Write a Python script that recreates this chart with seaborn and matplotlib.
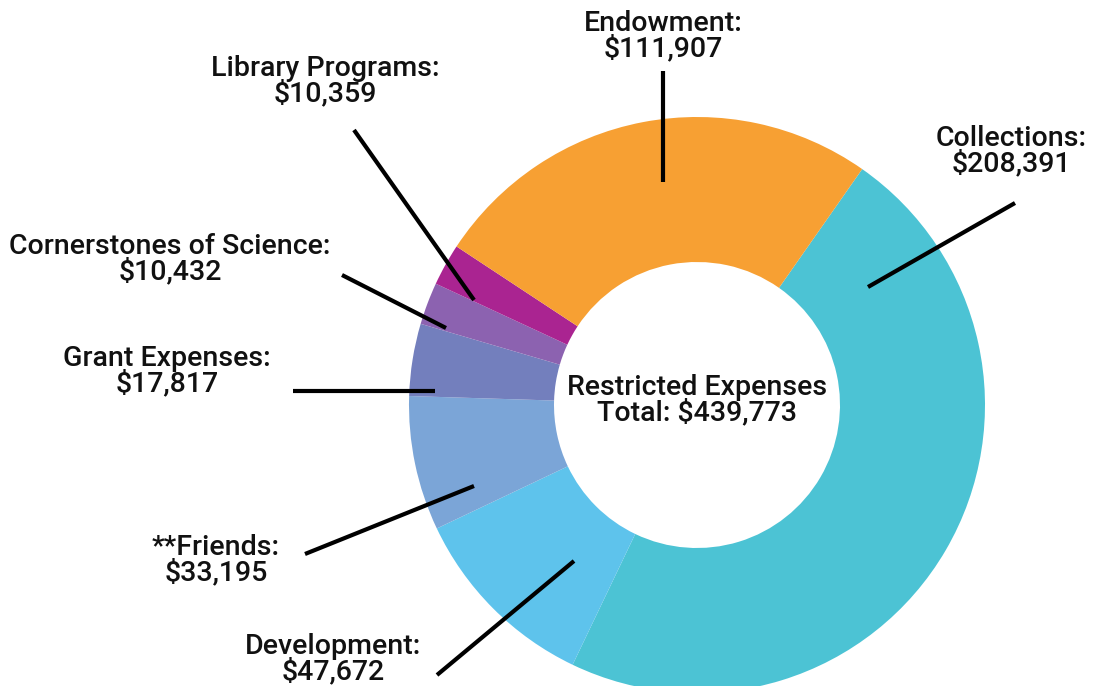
import matplotlib
matplotlib.use("Agg")
import matplotlib.pyplot as plt
import seaborn as sns

# ---- data ----
categories = ["Collections", "Development", "**Friends", "Grant Expenses",
              "Cornerstones of Science", "Library Programs", "Endowment"]
values = [208391, 47672, 33195, 17817, 10432, 10359, 111907]
colors = ["#4CC3D4", "#5EC3EC", "#7BA5D7", "#737FBD", "#8C62B0", "#AA2491", "#F7A033"]
center_title = "Restricted Expenses"

# ---- layout (pixel coordinates, y from top) ----
W, H = 1096, 686
cx, cy = 697, 405
r_out, r_in = 288, 143
start_angle = 55
label_pos = {
    "Collections": (1011, 151),
    "Development": (333, 659),
    "**Friends": (216, 560),
    "Grant Expenses": (167, 371),
    "Cornerstones of Science": (170, 259),
    "Library Programs": (325, 81),
    "Endowment": (663, 36),
}
leader = {
    "Collections": ((1015, 203), (868, 287)),
    "Development": ((437, 675), (574, 561)),
    "**Friends": ((305, 554), (474, 486)),
    "Grant Expenses": ((293, 391), (435, 391)),
    "Cornerstones of Science": ((342, 275), (446, 328)),
    "Library Programs": ((354, 130), (474, 300)),
    "Endowment": ((663, 71), (663, 182)),
}

sns.set_theme(style="white")
plt.rcParams["font.family"] = ["Roboto", "DejaVu Sans"]

fig = plt.figure(figsize=(W / 100, H / 100), dpi=100)
ax = fig.add_axes([0, 0, 1, 1])
ax.set_xlim(0, W)
ax.set_ylim(0, H)
ax.set_aspect("equal")
ax.axis("off")

def Y(y):
    return H - y

palette = sns.color_palette(colors)
ax.pie(values, colors=palette, startangle=start_angle, counterclock=False,
       center=(cx, Y(cy)), radius=r_out,
       wedgeprops=dict(width=r_out - r_in, linewidth=0))
ax.set_xlim(0, W)
ax.set_ylim(0, H)

fs = 20.5
for cat, val in zip(categories, values):
    x, y = label_pos[cat]
    ax.text(x, Y(y), f"{cat}:\n${val:,}", ha="center", va="center",
            fontsize=fs, fontweight="medium", color="#111111", linespacing=0.92)
    (x0, y0), (x1, y1) = leader[cat]
    ax.plot([x0, x1], [Y(y0), Y(y1)], color="black", lw=3, solid_capstyle="butt")

total = sum(values)
ax.text(cx, Y(400), f"{center_title}\nTotal: ${total:,}", ha="center", va="center",
        fontsize=fs, fontweight="medium", color="#111111", linespacing=0.92)

fig.savefig("out.png", dpi=100)
